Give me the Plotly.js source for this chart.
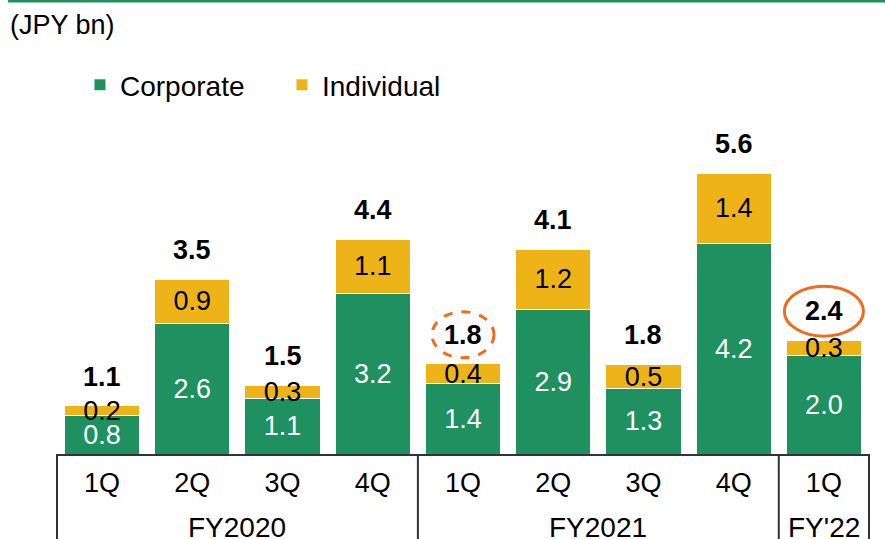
<!DOCTYPE html>
<html>
<head>
<meta charset="utf-8">
<script src="https://cdn.plot.ly/plotly-3.0.1.min.js"></script>
<style>
html, body { margin: 0; padding: 0; background: #fff; }
#chart { width: 885px; height: 539px; }
</style>
</head>
<body>
<div id="chart"></div>
<script>
// categories
const fiscalYears = ['FY2020', 'FY2020', 'FY2020', 'FY2020', 'FY2021', 'FY2021', 'FY2021', 'FY2021', "FY'22"];
const quarters = ['1Q', '2Q', '3Q', '4Q', '1Q', '2Q', '3Q', '4Q', '1Q'];

// bar heights (JPY bn)
const corporate = [0.76, 2.61, 1.10, 3.21, 1.40, 2.89, 1.30, 4.20, 1.97];
const individual = [0.20, 0.88, 0.27, 1.07, 0.40, 1.19, 0.49, 1.40, 0.30];

// labels as printed on the chart
const corporateLabels = ['0.8', '2.6', '1.1', '3.2', '1.4', '2.9', '1.3', '4.2', '2.0'];
const individualLabels = ['0.2', '0.9', '0.3', '1.1', '0.4', '1.2', '0.5', '1.4', '0.3'];
const totalLabels = ['1.1', '3.5', '1.5', '4.4', '1.8', '4.1', '1.8', '5.6', '2.4'];

const GREEN = '#1f9160';
const YELLOW = '#eeb417';
const ORANGE = '#f26a1b';
const LINE = '#333333';
const FONT = 'Liberation Sans, Arial, sans-serif';

// unique category keys, quarter shown as tick text
const cats = fiscalYears.map((fy, i) => fy + ' ' + quarters[i]);
const n = cats.length;

let traces = [
    {
        type: 'bar', name: 'Corporate', x: cats, y: corporate,
        text: corporateLabels, textposition: 'inside', insidetextanchor: 'middle',
        textangle: 0, constraintext: 'none',
        textfont: {family: FONT, size: 27, color: '#ffffff'},
        marker: {color: GREEN, line: {color: '#ffffff', width: 1}},
        hoverinfo: 'skip'
    },
    {
        type: 'bar', name: 'Individual', x: cats, y: individual,
        text: individualLabels, textposition: 'inside', insidetextanchor: 'middle',
        textangle: 0, constraintext: 'none',
        textfont: {family: FONT, size: 27, color: '#000000'},
        marker: {color: YELLOW, line: {color: '#ffffff', width: 1}},
        hoverinfo: 'skip'
    }
];

// totals above each bar
let annotations = [];
for (let i = 0; i < n; i++) {
    annotations.push({
        x: cats[i], y: corporate[i] + individual[i], xref: 'x', yref: 'y',
        text: '<b>' + totalLabels[i] + '</b>', showarrow: false,
        yanchor: 'middle', yshift: 29,
        font: {family: FONT, size: 27, color: '#000000'}
    });
}

// fiscal year group labels and the table lines below the axis
let shapes = [];
let groupStart = 0;
shapes.push({type: 'line', xref: 'paper', yref: 'paper', x0: 0, x1: 0, y0: 0, y1: -0.3,
             line: {color: LINE, width: 2}});
for (let i = 1; i <= n; i++) {
    if (i === n || fiscalYears[i] !== fiscalYears[groupStart]) {
        annotations.push({
            x: (groupStart + i - 1) / 2, y: -0.208, xref: 'x', yref: 'paper',
            yanchor: 'middle', text: fiscalYears[groupStart], showarrow: false,
            font: {family: FONT, size: 28, color: '#000000'}
        });
        shapes.push({type: 'line', xref: 'paper', yref: 'paper', x0: i / n, x1: i / n, y0: 0, y1: -0.3,
                     line: {color: LINE, width: 2}});
        groupStart = i;
    }
}

annotations.push({
    x: -0.0604, y: 1.222, xref: 'paper', yref: 'paper', xanchor: 'left', yanchor: 'middle',
    text: '(JPY bn)', showarrow: false,
    font: {family: FONT, size: 27, color: '#000000'}
});

// circled totals
const PX = 1 / 50.14; // data units per pixel
function ring(i, w, h, dash) {
    let yc = corporate[i] + individual[i] + 29 * PX;
    return {
        type: 'circle', xref: 'x', yref: 'y',
        x0: i - w / 2 / 90.2, x1: i + w / 2 / 90.2,
        y0: yc - h / 2 * PX, y1: yc + h / 2 * PX,
        line: {color: ORANGE, width: 3, dash: dash}
    };
}
shapes.push(ring(4, 62, 46, 'dash'));
shapes.push(ring(8, 79, 50, 'solid'));

// green rule along the top
shapes.push({type: 'line', xref: 'paper', yref: 'paper', x0: -0.0603, x1: 1.03, y0: 1.2906, y1: 1.2906,
             line: {color: GREEN, width: 3}});

let layout = {
    width: 885, height: 539,
    margin: {l: 57, r: 16, t: 103, b: 85},
    paper_bgcolor: '#ffffff', plot_bgcolor: '#ffffff',
    barmode: 'stack', bargap: 0.167,
    font: {family: FONT, size: 27, color: '#000000'},
    showlegend: true,
    legend: {
        orientation: 'h', x: 0.0283, y: 1.051, xanchor: 'left', yanchor: 'middle',
        font: {family: FONT, size: 28, color: '#000000'},
        entrywidth: 157, traceorder: 'normal'
    },
    xaxis: {
        type: 'category', tickmode: 'array', tickvals: cats, ticktext: quarters,
        showline: true, linecolor: LINE, linewidth: 2,
        ticks: '', ticklabelstandoff: 4,
        tickfont: {family: FONT, size: 27, color: '#000000'},
        showgrid: false, zeroline: false, fixedrange: true
    },
    yaxis: {
        range: [0, 7], visible: false, showgrid: false, zeroline: false, fixedrange: true
    },
    annotations: annotations,
    shapes: shapes
};

Plotly.newPlot('chart', traces, layout, {displayModeBar: false, staticPlot: true});
</script>
</body>
</html>
